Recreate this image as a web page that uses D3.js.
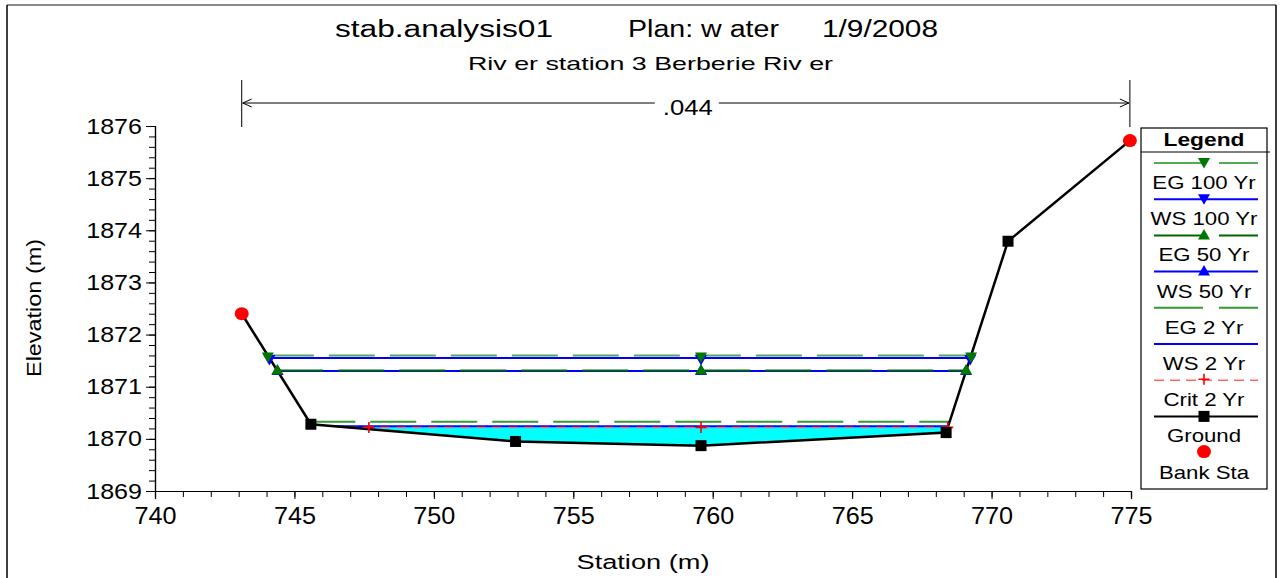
<!DOCTYPE html>
<html><head><meta charset="utf-8">
<script src="https://cdn.jsdelivr.net/npm/d3@7"></script>
<style>
html,body{margin:0;padding:0;background:#fff;}
text{font-family:"Liberation Sans",Arial,sans-serif;fill:#000;}
</style></head>
<body><svg id="c" width="1287" height="578"></svg>
<script>
// ---------- data ----------
const titleParts = ["stab.analysis01", "Plan: w ater", "1/9/2008"];
const subtitle = "Riv er station 3 Berberie Riv er";
const xLabel = "Station (m)";
const yLabel = "Elevation (m)";
const xTicks = [740, 745, 750, 755, 760, 765, 770, 775];
const yTicks = [1869, 1870, 1871, 1872, 1873, 1874, 1875, 1876];
const groundSta  = [743.11, 745.59, 752.93, 759.58, 768.37, 770.59, 774.96];
const groundElev = [1872.40, 1870.28, 1869.95, 1869.87, 1870.12, 1873.79, 1875.72];
const bankSta  = [743.11, 774.96];
const bankElev = [1872.40, 1875.72];
const manningN = ".044";
const profileNames = ["EG 100 Yr", "WS 100 Yr", "EG 50 Yr", "WS 50 Yr", "EG 2 Yr", "WS 2 Yr", "Crit 2 Yr"];
const profileElev  = [1871.60, 1871.55, 1871.31, 1871.30, 1870.33, 1870.24, 1870.22];
const midMarkerSta = 759.58;
const critMarkerSta = [747.67, 759.58, 768.43];
const legendNames = ["EG 100 Yr", "WS 100 Yr", "EG 50 Yr", "WS 50 Yr", "EG 2 Yr", "WS 2 Yr", "Crit 2 Yr", "Ground", "Bank Sta"];

// ---------- styles ----------
const style = {
  "EG 100 Yr": {color:"#55aa55", dash:"46,15", w:2, marker:"down", mcolor:"#007700"},
  "WS 100 Yr": {color:"#0000ff", dash:null, w:2, marker:"down", mcolor:"#0000ff"},
  "EG 50 Yr":  {color:"#006600", dash:"46,15", w:2, marker:"up", mcolor:"#007700"},
  "WS 50 Yr":  {color:"#0000ff", dash:null, w:2, marker:"up", mcolor:"#0000ff"},
  "EG 2 Yr":   {color:"#339933", dash:"46,15", w:2, marker:null},
  "WS 2 Yr":   {color:"#0000ff", dash:null, w:2, marker:null},
  "Crit 2 Yr": {color:"#ff6666", dash:"10,6", w:1.5, marker:"plus", mcolor:"#ff0000"}
};

const svg = d3.select("#c");
const x = d3.scaleLinear().domain([740, 775]).range([155, 1131]);
const y = d3.scaleLinear().domain([1869, 1876]).range([491, 126]);

function fit(sel, w){ sel.attr("textLength", w).attr("lengthAdjust", "spacingAndGlyphs"); return sel; }
function stretch(sel, k){ sel.each(function(){ const l=this.getComputedTextLength(); this.setAttribute("textLength", l*k); this.setAttribute("lengthAdjust","spacingAndGlyphs"); }); }

// frame
svg.append("line").attr("x1",7).attr("x2",1276).attr("y1",5).attr("y2",5).attr("stroke","#888").attr("stroke-width",2);
svg.append("line").attr("x1",7).attr("x2",7).attr("y1",5).attr("y2",578).attr("stroke","#000").attr("stroke-width",1.5);
svg.append("line").attr("x1",1276).attr("x2",1276).attr("y1",5).attr("y2",578).attr("stroke","#000").attr("stroke-width",1.5);

// titles
fit(svg.append("text").attr("x",335).attr("y",37).style("font-size","23px").text(titleParts[0]), 218);
fit(svg.append("text").attr("x",628).attr("y",37).style("font-size","23px").text(titleParts[1]), 151);
fit(svg.append("text").attr("x",822).attr("y",37).style("font-size","23px").text(titleParts[2]), 116);
fit(svg.append("text").attr("x",468).attr("y",70).style("font-size","19px").text(subtitle), 365);

// axes
const g = svg.append("g");
const yAx = g.append("g").attr("transform","translate(155,0)")
  .call(d3.axisLeft(y).tickValues(yTicks).tickSize(9).tickPadding(4).tickFormat(d3.format("d")));
g.append("g").attr("transform","translate(155,0)")
  .call(d3.axisLeft(y).tickValues(d3.range(0,36).map(i=>1869+i*0.2)).tickSize(6).tickFormat(""));
const xAx = g.append("g").attr("transform","translate(0,491)")
  .call(d3.axisBottom(x).tickValues(xTicks).tickSize(8).tickPadding(8).tickFormat(d3.format("d")));
g.append("g").attr("transform","translate(0,491)")
  .call(d3.axisBottom(x).tickValues(d3.range(740,776,1)).tickSize(6).tickFormat(""));
g.selectAll(".domain").attr("stroke","#000").attr("stroke-width",1.2);
g.selectAll(".tick line").attr("stroke","#000");
yAx.selectAll("text").style("font-size","22px").style("font-family","Liberation Sans, Arial");
xAx.selectAll("text").style("font-size","24px").style("font-family","Liberation Sans, Arial");
stretch(yAx.selectAll("text"), 1.14);
stretch(xAx.selectAll("text"), 1.05);

fit(svg.append("text").attr("x",643).attr("y",569).attr("text-anchor","middle").style("font-size","20px").text(xLabel), 133);
fit(svg.append("text").attr("transform","translate(41,308) rotate(-90)").attr("text-anchor","middle").style("font-size","20px").text(yLabel), 138);

// n-value annotation
const bx0 = x(bankSta[0]), bx1 = x(bankSta[1]);
svg.append("line").attr("x1",bx0).attr("x2",bx0).attr("y1",80).attr("y2",127).attr("stroke","#000");
svg.append("line").attr("x1",bx1).attr("x2",bx1).attr("y1",80).attr("y2",127).attr("stroke","#000");
const nText = svg.append("text").attr("x",(bx0+bx1)/2+2).attr("y",115).attr("text-anchor","middle").style("font-size","22px").text(manningN);
fit(nText, 50);
const tx0 = (bx0+bx1)/2 - 31, tx1 = (bx0+bx1)/2 + 33;
svg.append("line").attr("x1",bx0+1).attr("x2",tx0).attr("y1",103).attr("y2",103).attr("stroke","#000");
svg.append("line").attr("x1",tx1).attr("x2",bx1-1).attr("y1",103).attr("y2",103).attr("stroke","#000");
svg.append("path").attr("d",`M${bx0+10},${99}L${bx0+1},${103}L${bx0+10},${107}`).attr("fill","none").attr("stroke","#000");
svg.append("path").attr("d",`M${bx1-10},${99}L${bx1-1},${103}L${bx1-10},${107}`).attr("fill","none").attr("stroke","#000");

// ground helpers
const ground = groundSta.map((s,i)=>[s, groundElev[i]]);
let lowI = d3.minIndex(groundElev);
function crossing(e, dir){
  let i = lowI;
  while (i+dir >= 0 && i+dir < ground.length){
    const a = ground[i], b = ground[i+dir];
    if ((a[1]-e)*(b[1]-e) <= 0 && b[1] >= e){
      const t = (e - a[1])/(b[1]-a[1]);
      return a[0] + t*(b[0]-a[0]);
    }
    i += dir;
  }
  return ground[dir<0?0:ground.length-1][0];
}

// water fill (WS 2 Yr)
const wsE = profileElev[profileNames.indexOf("WS 2 Yr")];
const wl = crossing(wsE,-1), wr = crossing(wsE,1);
const poly = [[wl, wsE]].concat(ground.filter(p=>p[0]>wl && p[0]<wr)).concat([[wr, wsE]]);
svg.append("path").attr("d", d3.line().x(d=>x(d[0])).y(d=>y(d[1]))(poly)+"Z").attr("fill","#00ffff").attr("stroke","none");

// profile lines (WS first, then EG, then crit)
const order = ["WS 100 Yr","WS 50 Yr","WS 2 Yr","EG 100 Yr","EG 50 Yr","EG 2 Yr","Crit 2 Yr"];
const ends = {};
order.forEach(name=>{
  const e = profileElev[profileNames.indexOf(name)];
  const l = crossing(e,-1), r = crossing(e,1);
  ends[name] = [l, r];
  const st = style[name];
  svg.append("line").attr("x1",x(l)).attr("x2",x(r)).attr("y1",y(e)).attr("y2",y(e))
    .attr("stroke",st.color).attr("stroke-width",st.w).attr("stroke-dasharray",st.dash);
});

// ground line
svg.append("path").attr("d", d3.line().x(d=>x(d[0])).y(d=>y(d[1]))(ground)).attr("fill","none").attr("stroke","#000").attr("stroke-width",2.5);

function drawMarker(parent, type, cx, cy, color){
  if (type==="down") parent.append("path").attr("d",`M${cx-6},${cy-5}L${cx+6},${cy-5}L${cx},${cy+5.5}Z`).attr("fill",color);
  else if (type==="up") parent.append("path").attr("d",`M${cx-6},${cy+5}L${cx+6},${cy+5}L${cx},${cy-5.5}Z`).attr("fill",color);
  else if (type==="plus") parent.append("path").attr("d",`M${cx-5.5},${cy}L${cx+5.5},${cy}M${cx},${cy-5.5}L${cx},${cy+5.5}`).attr("stroke",color).attr("stroke-width",1.6);
  else if (type==="square") parent.append("rect").attr("x",cx-5.5).attr("y",cy-5.5).attr("width",11).attr("height",11).attr("fill",color);
  else if (type==="circle") parent.append("ellipse").attr("cx",cx).attr("cy",cy).attr("rx",7).attr("ry",6.5).attr("fill",color);
}

// markers
["WS 100 Yr","WS 50 Yr","EG 100 Yr","EG 50 Yr"].forEach(name=>{
  const e = profileElev[profileNames.indexOf(name)], st = style[name];
  const [l,r] = ends[name];
  const off = st.marker==="down" ? 2 : -1;
  [l, midMarkerSta, r].forEach(s=>drawMarker(svg, st.marker, x(s), y(e)+off, st.mcolor));
});
{
  const e = profileElev[profileNames.indexOf("Crit 2 Yr")];
  critMarkerSta.forEach(s=>drawMarker(svg,"plus",x(s),y(e),"#ff0000"));
}
ground.forEach(p=>{ if (!bankSta.includes(p[0])) drawMarker(svg,"square",x(p[0]),y(p[1]),"#000"); });
bankSta.forEach((s,i)=>drawMarker(svg,"circle",x(s),y(bankElev[i]),"#ff0000"));

// legend
const L = svg.append("g");
L.append("rect").attr("x",1141).attr("y",128).attr("width",126).attr("height",361).attr("fill","#fff").attr("stroke","#000").attr("stroke-width",1.2);
L.append("line").attr("x1",1141).attr("x2",1270).attr("y1",152).attr("y2",152).attr("stroke","#000").attr("stroke-width",1.2);
fit(L.append("text").attr("x",1204).attr("y",146).attr("text-anchor","middle").style("font-size","18px").style("font-weight","bold").text("Legend"), 81);
legendNames.forEach((name,i)=>{
  const ly = 163 + i*36.2, ty = 189 + i*36.2, cx = 1204;
  if (style[name]){
    const st = style[name];
    L.append("line").attr("x1",1154).attr("x2",1258).attr("y1",ly).attr("y2",ly)
      .attr("stroke",st.color).attr("stroke-width",st.w).attr("stroke-dasharray", st.dash ? (name==="Crit 2 Yr" ? "10,6" : "49,16") : null);
    if (st.marker) drawMarker(L, st.marker, cx, ly+(st.marker==="down"?0:-1), st.mcolor);
  } else if (name==="Ground"){
    L.append("line").attr("x1",1154).attr("x2",1258).attr("y1",ly).attr("y2",ly).attr("stroke","#000").attr("stroke-width",2);
    drawMarker(L,"square",cx,ly,"#000");
  } else {
    drawMarker(L,"circle",cx,ly-1,"#ff0000");
  }
  const t = L.append("text").attr("x",cx).attr("y",ty).attr("text-anchor","middle").style("font-size","18.5px").text(name);
  stretch(t, 1.2);
});
</script></body></html>
